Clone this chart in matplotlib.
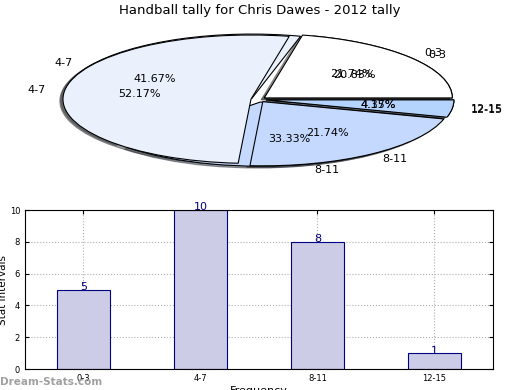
import numpy as np
import matplotlib
matplotlib.use('Agg')
import matplotlib.pyplot as plt

# datos
intervals = ['0-3', '4-7', '8-11', '12-15']
freq = [5, 10, 8, 1]
freq_prev = [5, 12, 5, 1]
pie_colors = ['#ffffff', '#eaf1fd', '#c5d9fe', '#b4d4fe']

fig = plt.figure(figsize=(5.2, 3.9), dpi=100)

# Pie (dos pies superpuestos, como en el original)
ax1 = fig.add_axes([0.045, 0.539, 0.904, 0.4115])
for vals in (freq, freq_prev):
    wedges, texts, autotexts = ax1.pie(vals, labels=intervals, colors=pie_colors,
                                       explode=[0.04] * 4,
                                       shadow={'ox': -0.012, 'oy': -0.02, 'shade': 0.75},
                                       autopct='%1.2f%%', startangle=0,
                                       wedgeprops={'edgecolor': 'black', 'linewidth': 0.8},
                                       textprops={'fontsize': 8})
ax1.set_aspect('auto')
ax1.set_xlim(-1.25, 1.25)
ax1.set_ylim(-1.25, 1.25)
fig.text(0.5, 0.973, 'Handball tally for Chris Dawes - 2012 tally',
         ha='center', va='center', fontsize=9.5)

# Barras
ax2 = fig.add_axes([0.048, 0.0538, 0.9, 0.4077])
x = np.arange(len(intervals))
bars = ax2.bar(x, freq, width=0.45, color='#ccccE6', edgecolor='navy', linewidth=0.8)
for xi, v in zip(x, freq):
    ax2.text(xi, v - 0.15, str(v), ha='center', va='bottom', color='navy', fontsize=8)
ax2.set_xlim(-0.5, 3.5)
ax2.set_ylim(0, 10)
ax2.set_xticks(x)
ax2.set_xticklabels(intervals)
ax2.tick_params(labelsize=6, direction='in', length=3, top=True, right=True)
ax2.grid(True, linestyle=':', color='#b0b0b0', linewidth=0.8)
ax2.set_axisbelow(True)
ax2.set_xlabel('Frequency', fontsize=8, labelpad=2)
ax2.set_ylabel('Stat Intervals', fontsize=7.5, labelpad=1)

fig.text(0.0, 0.008, 'Dream-Stats.com', color='#a0a0a0', fontsize=7.5,
         fontweight='bold', ha='left', va='bottom')

fig.savefig('out.png', dpi=100)
